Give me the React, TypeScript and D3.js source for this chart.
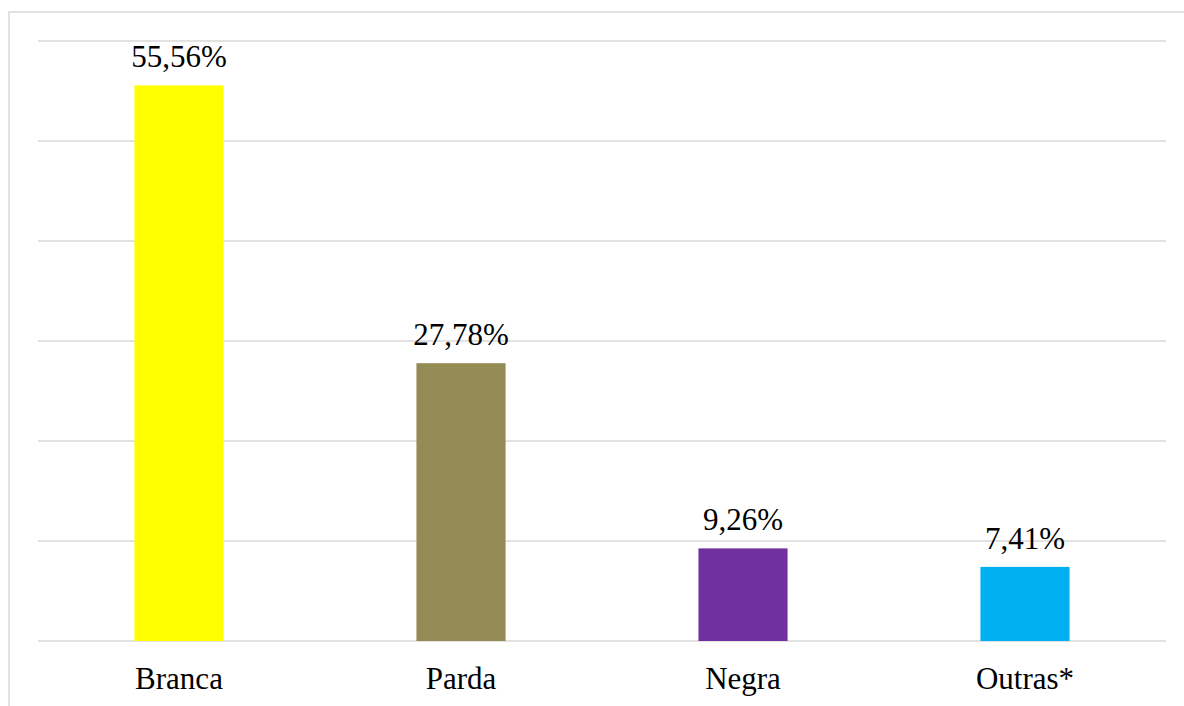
import React from "react";
import * as d3 from "d3";

const categories = ["Branca", "Parda", "Negra", "Outras*"];
const values = [55.56, 27.78, 9.26, 7.41];
const labels = ["55,56%", "27,78%", "9,26%", "7,41%"];
const colors = ["#FFFF00", "#948A54", "#7030A0", "#00B0F0"];
const gridTicks = [0, 10, 20, 30, 40, 50, 60];

export default function App() {
  const W = 1184, H = 706;
  const left = 38, right = 1166, top = 41, bottom = 641;
  const x = d3.scaleBand<string>().domain(categories).range([left, right]).paddingInner(0.684).paddingOuter(0.342);
  const y = d3.scaleLinear().domain([0, 60]).range([bottom, top]);
  const font = "Liberation Serif";
  return (
    <svg width={W} height={H} style={{ position: "fixed", left: 0, top: 0, background: "#fff" }}>
      <rect x={0} y={0} width={W} height={H} fill="#fff" />
      <rect x={9} y={12} width={W + 20} height={H + 20} fill="none" stroke="#d9d9d9" strokeWidth={1.5} />
      {gridTicks.map((t) => (
        <line key={t} x1={left} x2={right} y1={y(t)} y2={y(t)} stroke="#d9d9d9" strokeWidth={1.5} />
      ))}
      {categories.map((c, i) => (
        <rect key={c} x={x(c)} y={y(values[i])} width={x.bandwidth()} height={bottom - y(values[i])} fill={colors[i]} />
      ))}
      {categories.map((c, i) => (
        <text key={"v" + c} x={x(c)! + x.bandwidth() / 2} y={y(values[i]) - 18} textAnchor="middle" style={{ fontFamily: font }} fontSize={31} fill="#000">
          {labels[i]}
        </text>
      ))}
      {categories.map((c) => (
        <text key={"c" + c} x={x(c)! + x.bandwidth() / 2} y={689} textAnchor="middle" style={{ fontFamily: font }} fontSize={31} fill="#000">
          {c}
        </text>
      ))}
    </svg>
  );
}
